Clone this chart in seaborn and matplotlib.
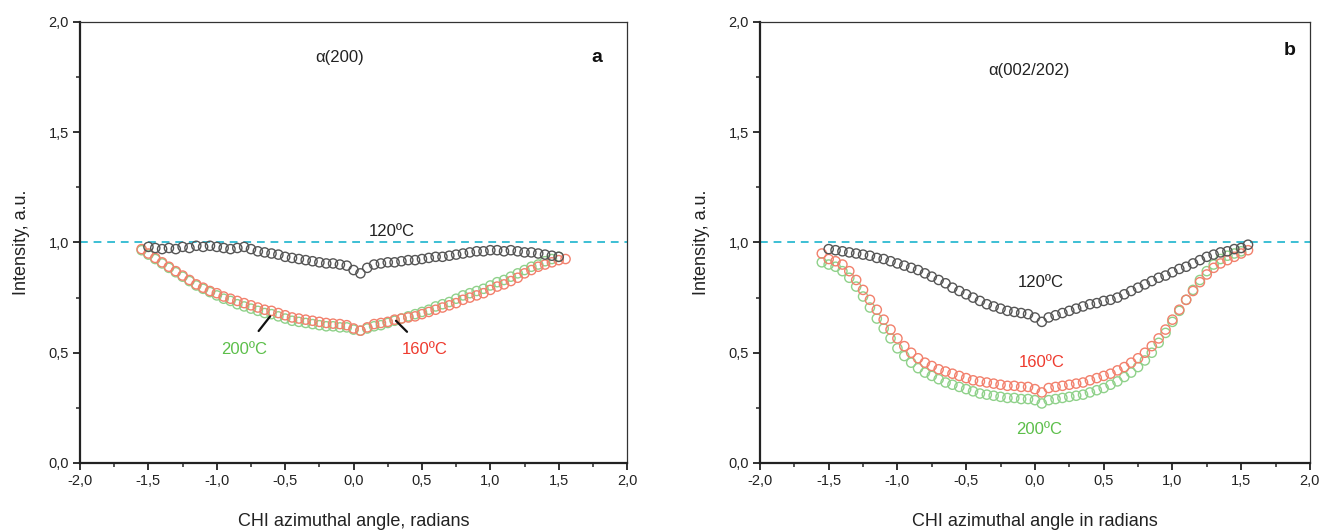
import numpy as np
import pandas as pd
import matplotlib
matplotlib.use("Agg")
import matplotlib.pyplot as plt
from matplotlib.ticker import MultipleLocator, FuncFormatter
import seaborn as sns

# angle grid (radians), shared by all series
chi = [-1.55, -1.50, -1.45, -1.40, -1.35, -1.30, -1.25, -1.20, -1.15, -1.10,
       -1.05, -1.00, -0.95, -0.90, -0.85, -0.80, -0.75, -0.70, -0.65, -0.60,
       -0.55, -0.50, -0.45, -0.40, -0.35, -0.30, -0.25, -0.20, -0.15, -0.10,
       -0.05, 0.00, 0.05, 0.10, 0.15, 0.20, 0.25, 0.30, 0.35, 0.40,
       0.45, 0.50, 0.55, 0.60, 0.65, 0.70, 0.75, 0.80, 0.85, 0.90,
       0.95, 1.00, 1.05, 1.10, 1.15, 1.20, 1.25, 1.30, 1.35, 1.40,
       1.45, 1.50, 1.55]

# panel a: alpha(200)
a_120 = [np.nan, 0.98, 0.975, 0.97, 0.975, 0.97, 0.98, 0.975, 0.985, 0.98,
         0.985, 0.98, 0.975, 0.97, 0.975, 0.98, 0.97, 0.96, 0.955, 0.95,
         0.945, 0.935, 0.93, 0.925, 0.92, 0.915, 0.91, 0.905, 0.905, 0.90,
         0.895, 0.875, 0.86, 0.885, 0.90, 0.905, 0.91, 0.91, 0.915, 0.92,
         0.92, 0.925, 0.93, 0.935, 0.935, 0.94, 0.945, 0.95, 0.955, 0.96,
         0.96, 0.965, 0.965, 0.96, 0.965, 0.96, 0.955, 0.955, 0.95, 0.945,
         0.94, 0.935, np.nan]
a_160 = [0.97, 0.95, 0.93, 0.91, 0.89, 0.87, 0.85, 0.83, 0.81, 0.795,
         0.78, 0.77, 0.755, 0.745, 0.735, 0.725, 0.715, 0.705, 0.695, 0.69,
         0.68, 0.67, 0.66, 0.655, 0.65, 0.645, 0.64, 0.635, 0.632, 0.63,
         0.625, 0.61, 0.60, 0.615, 0.63, 0.635, 0.64, 0.65, 0.655, 0.66,
         0.665, 0.675, 0.685, 0.695, 0.705, 0.715, 0.725, 0.74, 0.75, 0.76,
         0.77, 0.785, 0.80, 0.81, 0.825, 0.84, 0.86, 0.875, 0.89, 0.90,
         0.91, 0.92, 0.925]
a_200 = [0.965, 0.945, 0.925, 0.905, 0.885, 0.865, 0.845, 0.825, 0.805, 0.79,
         0.775, 0.76, 0.745, 0.735, 0.72, 0.71, 0.70, 0.69, 0.68, 0.675,
         0.665, 0.655, 0.645, 0.64, 0.635, 0.63, 0.625, 0.62, 0.62, 0.615,
         0.615, 0.605, 0.60, 0.61, 0.62, 0.625, 0.635, 0.645, 0.655, 0.665,
         0.675, 0.685, 0.695, 0.71, 0.72, 0.73, 0.745, 0.76, 0.77, 0.78,
         0.79, 0.805, 0.82, 0.83, 0.845, 0.86, 0.875, 0.89, 0.90, 0.915,
         0.925, 0.935, np.nan]

# panel b: alpha(002/202)
b_120 = [np.nan, 0.97, 0.965, 0.96, 0.955, 0.95, 0.945, 0.94, 0.93, 0.925,
         0.915, 0.905, 0.895, 0.885, 0.875, 0.86, 0.845, 0.83, 0.815, 0.795,
         0.78, 0.765, 0.75, 0.735, 0.72, 0.71, 0.70, 0.69, 0.685, 0.68,
         0.675, 0.66, 0.64, 0.66, 0.67, 0.68, 0.69, 0.70, 0.71, 0.72,
         0.725, 0.735, 0.74, 0.75, 0.765, 0.78, 0.795, 0.81, 0.825, 0.84,
         0.85, 0.865, 0.88, 0.89, 0.905, 0.92, 0.935, 0.945, 0.955, 0.96,
         0.97, 0.975, 0.99]
b_160 = [0.95, 0.925, 0.915, 0.90, 0.87, 0.83, 0.785, 0.74, 0.695, 0.65,
         0.605, 0.565, 0.53, 0.50, 0.475, 0.455, 0.44, 0.425, 0.415, 0.405,
         0.395, 0.385, 0.375, 0.37, 0.365, 0.36, 0.355, 0.35, 0.35, 0.345,
         0.345, 0.335, 0.32, 0.34, 0.345, 0.35, 0.355, 0.36, 0.365, 0.375,
         0.385, 0.395, 0.405, 0.42, 0.435, 0.455, 0.475, 0.50, 0.53, 0.565,
         0.605, 0.65, 0.695, 0.74, 0.78, 0.82, 0.855, 0.885, 0.905, 0.92,
         0.935, 0.95, 0.965]
b_200 = [0.91, 0.90, 0.89, 0.87, 0.84, 0.80, 0.755, 0.705, 0.655, 0.61,
         0.565, 0.52, 0.485, 0.455, 0.43, 0.41, 0.395, 0.38, 0.365, 0.355,
         0.345, 0.335, 0.325, 0.315, 0.31, 0.305, 0.30, 0.295, 0.295, 0.29,
         0.29, 0.285, 0.27, 0.285, 0.29, 0.295, 0.30, 0.305, 0.31, 0.32,
         0.33, 0.34, 0.355, 0.37, 0.39, 0.41, 0.435, 0.465, 0.50, 0.545,
         0.59, 0.64, 0.69, 0.74, 0.785, 0.83, 0.87, 0.90, 0.925, 0.94,
         0.95, 0.96, np.nan]

temps = ["120ºC", "160ºC", "200ºC"]
colors = {"120ºC": "#555555", "160ºC": "#f2806c", "200ºC": "#8fd18a"}
label_colors = {"120ºC": "#222222", "160ºC": "#ee3b2f", "200ºC": "#5cbf4a"}

sns.set_style("ticks")
plt.rcParams["font.family"] = ["Liberation Sans", "DejaVu Sans"]

fig = plt.figure(figsize=(13.23, 5.32), dpi=100)
ax_a = fig.add_axes([0.0605, 0.1297, 0.4135, 0.829])
ax_b = fig.add_axes([0.5744, 0.1297, 0.4157, 0.829])

comma = FuncFormatter(lambda v, p: f"{v:.1f}".replace(".", ","))

panels = [
    (ax_a, {"120ºC": a_120, "160ºC": a_160, "200ºC": a_200},
     "α(200)", "a", "CHI azimuthal angle, radians"),
    (ax_b, {"120ºC": b_120, "160ºC": b_160, "200ºC": b_200},
     "α(002/202)", "b", "CHI azimuthal angle in radians"),
]

for ax, series, title, letter, xlabel in panels:
    ax.axhline(1.0, color="#3cbfd4", ls=(0, (4, 3)), lw=1.4, zorder=1)
    # draw green first, red over it, gray on top
    for t in ["200ºC", "160ºC", "120ºC"]:
        df = pd.DataFrame({"chi": chi, "I": series[t]}).dropna()
        sns.scatterplot(data=df, x="chi", y="I", ax=ax, marker="o", s=44,
                        facecolor="none", edgecolor=colors[t], linewidth=1.0,
                        zorder=3)
    ax.set_xlim(-2, 2)
    ax.set_ylim(0, 2)
    ax.xaxis.set_major_locator(MultipleLocator(0.5))
    ax.xaxis.set_minor_locator(MultipleLocator(0.25))
    ax.yaxis.set_major_locator(MultipleLocator(0.5))
    ax.yaxis.set_minor_locator(MultipleLocator(0.25))
    ax.xaxis.set_major_formatter(comma)
    ax.yaxis.set_major_formatter(comma)
    ax.tick_params(which="major", direction="out", length=5, width=1.3,
                   labelsize=10.5, colors="#222222", pad=3)
    ax.tick_params(which="minor", direction="out", length=3, width=1.1)
    for side in ["left", "bottom"]:
        ax.spines[side].set_linewidth(1.6)
        ax.spines[side].set_color("#222222")
    for side in ["top", "right"]:
        ax.spines[side].set_linewidth(0.9)
        ax.spines[side].set_color("#333333")
    ax.set_xlabel(xlabel, fontsize=13, color="#222222", labelpad=18)
    ax.set_ylabel("Intensity, a.u.", fontsize=13, color="#222222", labelpad=13)
    ax.text(-0.1 if letter == "a" else -0.04, 1.84 if letter == "a" else 1.78,
            title, ha="center", va="center", fontsize=12, color="#222222")
    ax.text(1.78 if letter == "a" else 1.85, 1.84 if letter == "a" else 1.87,
            letter, ha="center", va="center", fontsize=14, fontweight="bold",
            color="#111111")

# panel a curve labels
ax_a.text(0.28, 1.05, "120ºC", ha="center", va="center", fontsize=12, color=label_colors["120ºC"])
ax_a.annotate("200ºC", xy=(-0.61, 0.665), xytext=(-0.80, 0.515), ha="center", va="center",
              fontsize=12, color=label_colors["200ºC"],
              arrowprops=dict(arrowstyle="-", color="#111111", lw=1.6, shrinkA=7, shrinkB=0))
ax_a.annotate("160ºC", xy=(0.31, 0.645), xytext=(0.52, 0.515), ha="center", va="center",
              fontsize=12, color=label_colors["160ºC"],
              arrowprops=dict(arrowstyle="-", color="#111111", lw=1.6, shrinkA=7, shrinkB=0))

# panel b curve labels
ax_b.text(0.04, 0.82, "120ºC", ha="center", va="center", fontsize=12, color=label_colors["120ºC"])
ax_b.text(0.05, 0.455, "160ºC", ha="center", va="center", fontsize=12, color=label_colors["160ºC"])
ax_b.text(0.03, 0.15, "200ºC", ha="center", va="center", fontsize=12, color=label_colors["200ºC"])

fig.savefig("out.png", dpi=100)
